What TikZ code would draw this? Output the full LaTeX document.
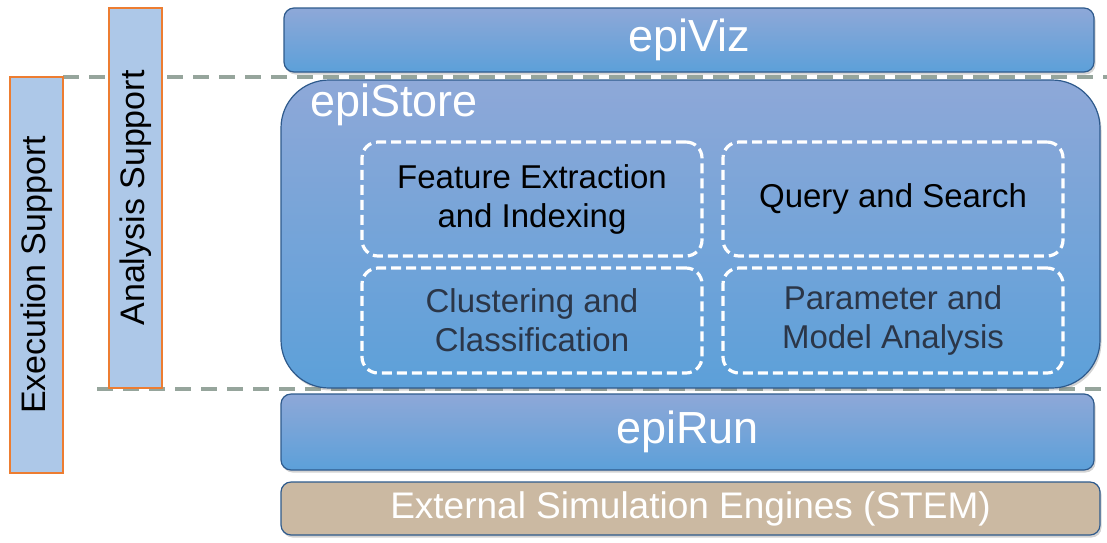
\documentclass[tikz,border=0pt]{standalone}
\usepackage{fontspec}
\setmainfont{Liberation Sans}
\usepackage{tikz}
\usetikzlibrary{shadows}
\definecolor{suppfill}{HTML}{ADC8E8}
\definecolor{suppedge}{HTML}{ED7D31}
\definecolor{layertop}{HTML}{8EA8D8}
\definecolor{layerbot}{HTML}{5CA0D9}
\definecolor{layeredge}{HTML}{2E5A8C}
\definecolor{stemfill}{HTML}{CBB9A2}
\definecolor{guide}{HTML}{96A59C}
\definecolor{subtext}{HTML}{2B3648}

\begin{document}
\begin{tikzpicture}[x=1pt,y=-1pt,
  every node/.style={inner sep=0pt, outer sep=0pt, align=center},
  support/.style={draw=suppedge, line width=1.5pt, fill=suppfill, minimum width=53pt},
  layer/.style={draw=layeredge, line width=1.2pt, rounded corners=10pt, top color=layertop, bottom color=layerbot,
    text=white, font=\fontsize{45}{50}\selectfont, drop shadow={shadow xshift=1.5pt, shadow yshift=-2.5pt, opacity=0.35}},
  module/.style={draw=white, line width=3.2pt, dash pattern=on 10pt off 5pt, rounded corners=16pt,
    minimum width=340pt, font=\fontsize{33}{39}\selectfont},
  guideline/.style={guide, line width=4pt, dash pattern=on 16pt off 10pt}]
\useasboundingbox (0,0) rectangle (1107,542);

% guide lines
\coordinate (topend) at (1107,77);
\coordinate (botstart) at (97,389);
\coordinate (botend) at (1107,389);
\node[support, minimum height=396pt] (exec) at (36.5,275) {};
\draw[guideline] (exec.north east) -- (topend);
\draw[guideline] (botstart) -- (botend);
\node[support, minimum height=396pt] at (exec) {\rotatebox{90}{\fontsize{34}{38}\selectfont Execution Support}};
\node[support, minimum height=380pt] (anal) at (135.5,198) {\rotatebox{90}{\fontsize{34}{38}\selectfont Analysis Support}};

% layers
\node[layer, minimum width=810pt, minimum height=64pt] (viz) at (689,40) {epiViz};
\node[layer, rounded corners=48pt, minimum width=819pt, minimum height=308pt] (store) at (690.5,234) {};
\node[text=white, font=\fontsize{45}{50}\selectfont, anchor=west] (storelbl) at (310,105) {epiStore};
\node[layer, minimum width=813pt, minimum height=76pt] (run) at (687.5,432) {epiRun};
\node[layer, top color=stemfill, bottom color=stemfill, font=\fontsize{37}{40}\selectfont,
  minimum width=819pt, minimum height=53pt] (stem) at (690.5,508.5) {External Simulation Engines (STEM)};

% modules
\node[module, minimum height=114pt] (feat) at (532,199) {Feature Extraction\\and Indexing};
\node[module, minimum height=114pt] (query) at (893,199) {Query and Search};
\node[module, minimum height=105pt, text=subtext] (clust) at (532,320.5) {Clustering and\\Classification};
\node[module, minimum height=105pt, text=subtext] (param) at (893,320.5) {Parameter and\\Model Analysis};
\end{tikzpicture}
\end{document}
